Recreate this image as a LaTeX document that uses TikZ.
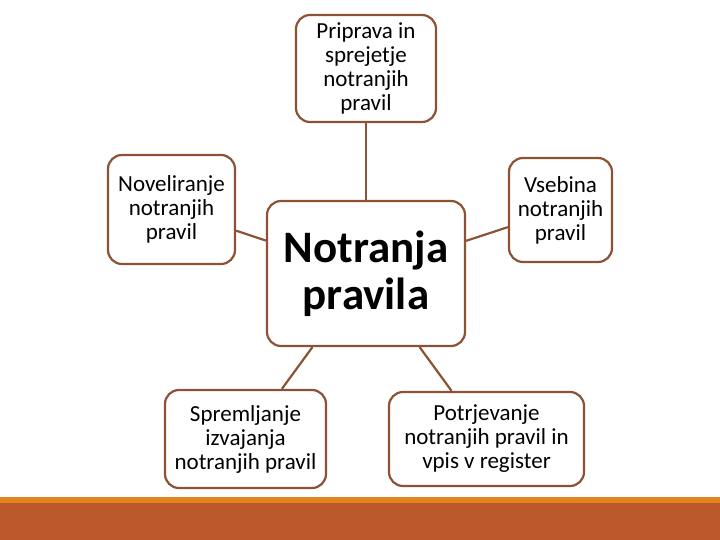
\documentclass[tikz,border=0pt]{standalone}
\usepackage{fontspec}
\setmainfont{Carlito}
\definecolor{brd}{RGB}{140,82,52}
\definecolor{barfill}{RGB}{188,88,44}
\definecolor{barline}{RGB}{226,132,30}
\begin{document}
\begin{tikzpicture}[x=1pt,y=-1pt,
  box/.style={draw=brd, line width=2.2pt, rounded corners=14pt, fill=white, align=center,
    font=\fontsize{23}{24}\selectfont, inner sep=0pt},
  link/.style={draw=brd, line width=2.2pt}]
\useasboundingbox (0,0) rectangle (720,540);
\fill[barfill] (0,503) rectangle (720,540);
\fill[barline] (0,497) rectangle (720,503);
\node[box, minimum width=140pt, minimum height=107pt] (t) at (366,68.5) {Priprava in\\sprejetje\\notranjih\\pravil};
\node[box, minimum width=127pt, minimum height=109pt] (l) at (171.5,209.5) {Noveliranje\\notranjih\\pravil};
\node[box, minimum width=198pt, minimum height=145pt, font=\fontsize{45}{47}\selectfont\bfseries] (c) at (366,273.5) {Notranja\\pravila};
\node[box, minimum width=103pt, minimum height=104pt] (r) at (560.5,210) {Vsebina\\notranjih\\pravil};
\node[box, minimum width=161pt, minimum height=98pt] (bl) at (245.5,439) {Spremljanje\\izvajanja\\notranjih pravil};
\node[box, minimum width=195pt, minimum height=94pt] (br) at (486.5,439) {Potrjevanje\\notranjih pravil in\\vpis v register};
\draw[link] (c) -- (t);
\draw[link] (c) -- (l);
\draw[link] (c) -- (r);
\draw[link] (c) -- (bl);
\draw[link] (c) -- (br);
\end{tikzpicture}
\end{document}
